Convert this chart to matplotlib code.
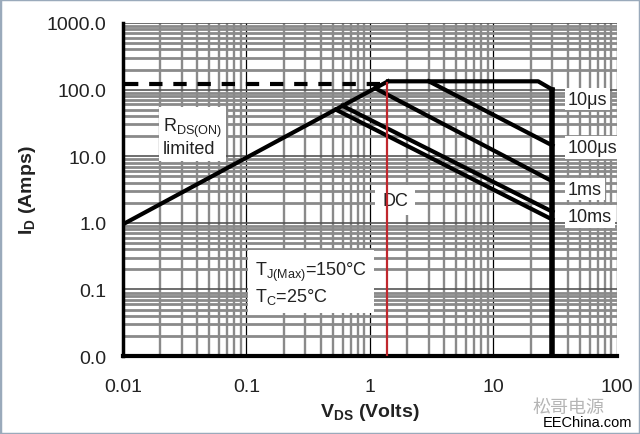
import matplotlib
matplotlib.use("Agg")
import matplotlib.pyplot as plt
from matplotlib.patches import Rectangle
from matplotlib.ticker import LogLocator, NullFormatter

plt.rcParams["font.family"] = ["Liberation Sans", "DejaVu Sans"]
plt.rcParams["mathtext.fontset"] = "custom"
plt.rcParams["mathtext.rm"] = "Liberation Sans"
plt.rcParams["mathtext.bf"] = "Liberation Sans:bold"
plt.rcParams["mathtext.it"] = "Liberation Sans:italic"

# SOA boundary data (V_DS in volts, I_D in amps)
rds_v = [0.01, 1.40]
rds_i = [0.95, 133]
pkg_limit_v = [0.0105, 1.40]
pkg_limit_i = [122, 122]
us10_v = [1.40, 23, 30]
us10_i = [133, 133, 100]
us100_v = [3.0, 30]
us100_i = [133, 14.5]
ms1_v = [1.1, 30]
ms1_i = [105, 4.2]
ms10_v = [0.60, 30]
ms10_i = [57, 1.47]
dc_v = [0.53, 30]
dc_i = [50, 1.12]
bvdss_v = [30, 30]
bvdss_i = [100, 0.01]
marker_v = 1.37

xticks = [0.01, 0.1, 1, 10, 100]
xticklabels = ["0.01", "0.1", "1", "10", "100"]
yticks = [0.01, 0.1, 1, 10, 100, 1000]
yticklabels = ["0.0", "0.1", "1.0", "10.0", "100.0", "1000.0"]

fig = plt.figure(figsize=(6.4, 4.35), dpi=100)
ax = fig.add_axes([0.192, 0.179, 0.772, 0.766])
ax.set_xscale("log")
ax.set_yscale("log")
ax.set_xlim(0.01, 100)
ax.set_ylim(0.01, 1000)

# grid: gray minor lines, thin black decades
ax.xaxis.set_minor_locator(LogLocator(base=10, subs=range(2, 10)))
ax.yaxis.set_minor_locator(LogLocator(base=10, subs=range(2, 10)))
ax.xaxis.set_minor_formatter(NullFormatter())
ax.yaxis.set_minor_formatter(NullFormatter())
ax.grid(which="minor", axis="x", color="#8a8a8a", lw=1.7, zorder=0)
ax.grid(which="minor", axis="y", color="#8a8a8a", lw=2.0, zorder=0)
ax.grid(which="major", axis="x", color="black", lw=0.9, zorder=0)
ax.grid(which="major", axis="y", color="#555555", lw=1.2, zorder=0)
ax.set_axisbelow(True)

ax.set_xticks(xticks)
ax.set_xticklabels(xticklabels)
ax.set_yticks(yticks)
ax.set_yticklabels(yticklabels)
ax.tick_params(which="both", length=0)
ax.tick_params(axis="x", pad=16, labelsize=14, labelcolor="#222222")
ax.tick_params(axis="y", pad=12, labelsize=14, labelcolor="#222222")

for s in ["top", "right"]:
    ax.spines[s].set_visible(False)
ax.spines["left"].set_linewidth(2.5)
ax.spines["bottom"].set_linewidth(3.0)

lw = 3.0
ax.plot(pkg_limit_v, pkg_limit_i, color="black", lw=lw, ls=(0, (3.2, 2.6)), zorder=3)
ax.plot(rds_v, rds_i, color="black", lw=lw, zorder=4)
ax.plot(us10_v, us10_i, color="black", lw=lw, zorder=4)
ax.plot(us100_v, us100_i, color="black", lw=lw, zorder=4)
ax.plot(ms1_v, ms1_i, color="black", lw=lw, zorder=4)
ax.plot(ms10_v, ms10_i, color="black", lw=lw, zorder=4)
ax.plot(dc_v, dc_i, color="black", lw=lw, zorder=4)
ax.plot(bvdss_v, bvdss_i, color="black", lw=4.0, zorder=4)
ax.axvline(marker_v, ymin=0, ymax=0.82, color="#c0272d", lw=1.6, zorder=6)

box = dict(facecolor="white", edgecolor="none", pad=3)
tc = "#222222"
ax.text(0.021, 20, "R$_{\\mathrm{DS(ON)}}$\nlimited", fontsize=13, color=tc,
        va="center", ha="left", linespacing=1.1, bbox=box, zorder=5)
ax.text(1.6, 2.2, "DC", fontsize=13, color=tc, va="center", ha="center",
        bbox=dict(facecolor="white", edgecolor="none", pad=5), zorder=5)
ax.text(0.117, 0.125, "T$_{\\mathrm{J(Max)}}$=150°C\nT$_{\\mathrm{C}}$=25°C",
        fontsize=13, color=tc, va="center", ha="left", linespacing=1.2,
        bbox=dict(facecolor="white", edgecolor="none", pad=5), zorder=5)

for v, i, lab in [(40, 72, "10\u03bcs"), (40, 13.5, "100\u03bcs"),
                  (40, 3.2, "1ms"), (40, 1.25, "10ms")]:
    ax.text(v, i, lab, fontsize=13, color=tc, va="center", ha="left",
            bbox=dict(facecolor="white", edgecolor="none", pad=2), zorder=5)

ax.set_xlabel("V$_{\\mathbf{DS}}$ (Volts)", fontsize=14, fontweight="bold",
              color="#222222", labelpad=4)
ax.set_ylabel("I$_{\\mathbf{D}}$ (Amps)", fontsize=14, fontweight="bold",
              color="#222222", labelpad=6)

# watermark
fig.text(0.945, 0.062, "松哥电源", fontsize=13, color="#b5b5b5",
         family=["Noto Sans CJK SC", "DejaVu Sans"], ha="right", va="center")
fig.text(0.988, 0.027, "EEChina.com", fontsize=10.5, color="black",
         ha="right", va="center")

fig.patches.append(Rectangle((0, 0), 1, 1, transform=fig.transFigure,
                             fill=False, edgecolor="#9aaabb", lw=2.5))

fig.savefig("out.png", dpi=100)
